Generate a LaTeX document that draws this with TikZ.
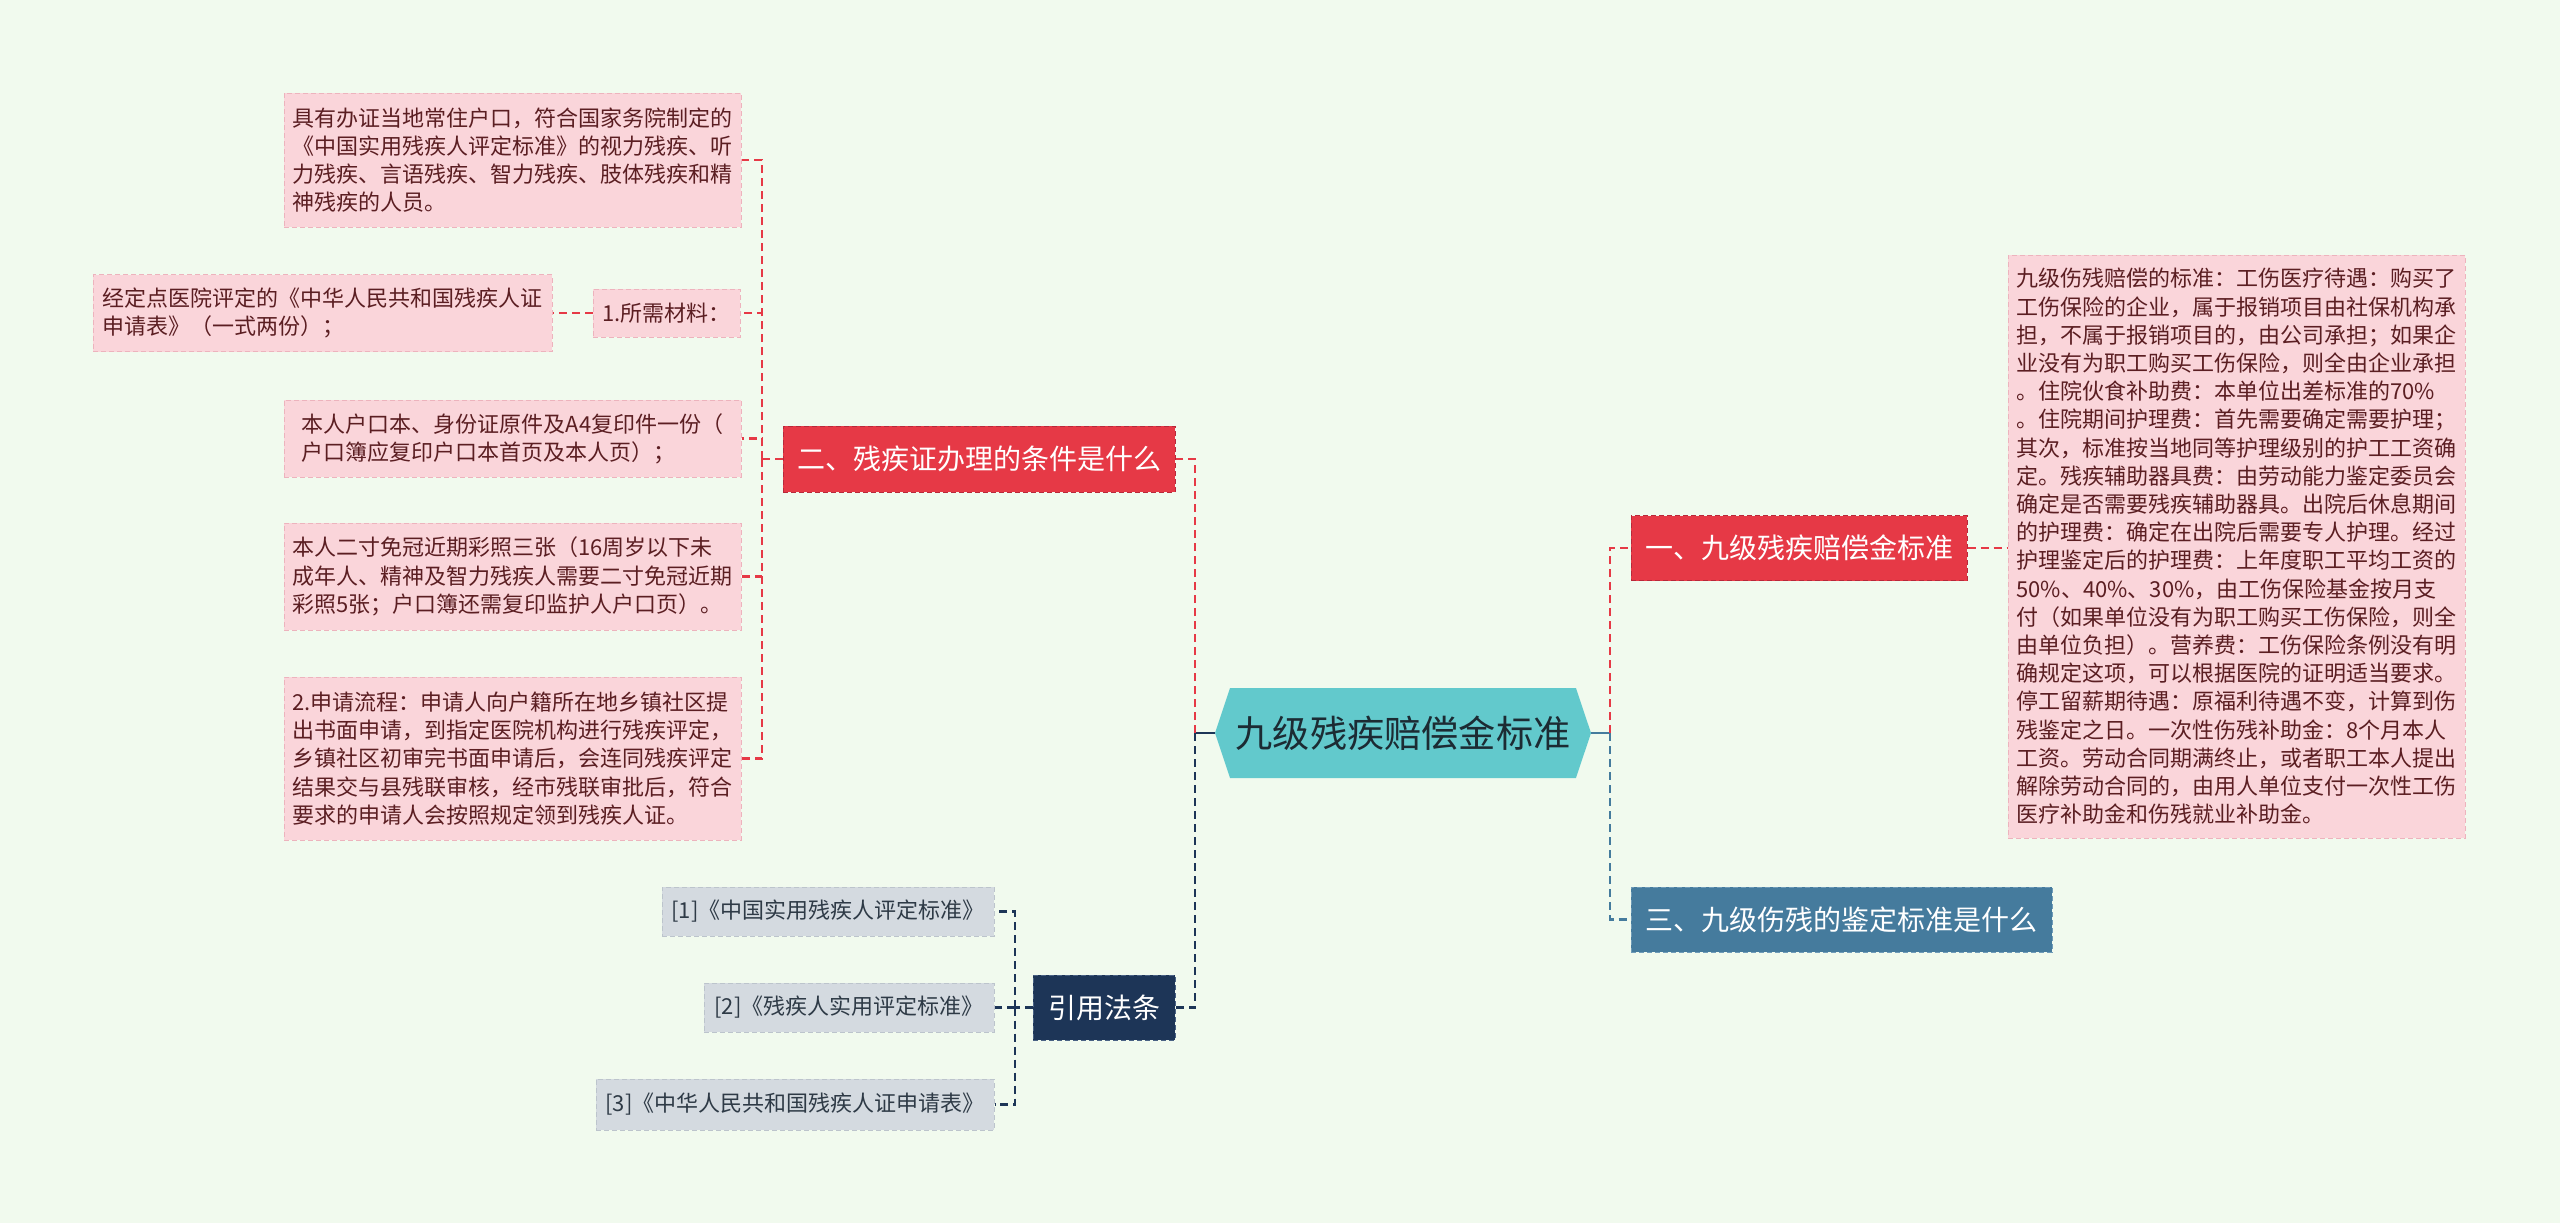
\documentclass[tikz,border=0pt]{standalone}
\usepackage{fontspec}
\setmainfont{Noto Sans CJK SC}
\usepackage{xcolor}
\usetikzlibrary{shapes.symbols, calc}

\definecolor{bgmint}{HTML}{F1FAEE}
\definecolor{hongse}{HTML}{E63946}
\definecolor{hongbian}{HTML}{B8283A}
\definecolor{fenhong}{HTML}{FAD5DA}
\definecolor{fenbian}{HTML}{EDB3BD}
\definecolor{yeziwz}{HTML}{5B1E22}
\definecolor{qing}{HTML}{62C9CC}
\definecolor{zhutiwz}{HTML}{1C2B33}
\definecolor{gangse}{HTML}{457B9D}
\definecolor{gangbian}{HTML}{6F9BB8}
\definecolor{zangqing}{HTML}{1D3557}
\definecolor{zangbian}{HTML}{4A6284}
\definecolor{huise}{HTML}{D4DAE0}
\definecolor{huibian}{HTML}{BCC4CC}
\definecolor{yinwz}{HTML}{2E3A46}

\begin{document}
\begin{tikzpicture}[x=0.5pt, y=-0.5pt,
    every node/.style={inner sep=0pt, align=left},
    zhuti/.style={signal, signal to=east and west, signal pointer angle=143,
        fill=qing, text=zhutiwz, font=\fontsize{18.6}{22}\selectfont},
    fenzhi/.style={draw, line width=0.5pt, dash pattern=on 2.5pt off 1.5pt,
        text=white, font=\fontsize{14}{17}\selectfont},
    yezi/.style={fill=fenhong, draw=fenbian, line width=0.5pt, dash pattern=on 2.5pt off 1.5pt,
        text=yeziwz, font=\fontsize{11}{14.1}\selectfont},
    yinyong/.style={fill=huise, draw=huibian, line width=0.5pt, dash pattern=on 2.5pt off 1.5pt,
        text=yinwz, font=\fontsize{11}{14}\selectfont},
    lian/.style={line width=1.1pt, dash pattern=on 4pt off 2.5pt},
    zhugan/.style={line width=1.3pt}]

    % 背景
    \fill[bgmint] (0,0) rectangle (2560,1223);
    \useasboundingbox (0,0) rectangle (2560,1223);

    % 中心主题
    \node[zhuti, minimum width=188pt, minimum height=45pt] (ctr) at (1403,733) {九级残疾赔偿金标准};

    % 一级分支
    \node[fenzhi, fill=hongse, draw=hongbian, minimum width=196pt, minimum height=33pt] (b2) at (979,459) {二、残疾证办理的条件是什么};
    \node[fenzhi, fill=hongse, draw=hongbian, minimum width=168pt, minimum height=32.5pt] (b1) at (1799,548) {一、九级残疾赔偿金标准};
    \node[fenzhi, fill=gangse, draw=gangbian, minimum width=210.5pt, minimum height=32.5pt] (b3) at (1841.5,919.5) {三、九级伤残的鉴定标准是什么};
    \node[fenzhi, fill=zangqing, draw=zangbian, minimum width=71pt, minimum height=32.5pt] (bref) at (1104,1007.5) {引用法条};

    % 左侧子节点
    \node[yezi, minimum width=228.5pt, minimum height=67pt] (la) at (512.5,160) {具有办证当地常住户口，符合国家务院制定的\\《中国实用残疾人评定标准》的视力残疾、听\\力残疾、言语残疾、智力残疾、肢体残疾和精\\神残疾的人员。};
    \node[yezi, minimum width=73.5pt, minimum height=24pt] (lc) at (666.5,313) {1.所需材料：};
    \node[yezi, minimum width=229.5pt, minimum height=38.5pt] (lb) at (322.5,313) {经定点医院评定的《中华人民共和国残疾人证\\申请表》（一式两份）；};
    \node[yezi, minimum width=228.5pt, minimum height=38.5pt] (ld) at (512.5,438.5) {本人户口本、身份证原件及A4复印件一份（\\户口簿应复印户口本首页及本人页）；};
    \node[yezi, minimum width=228.5pt, minimum height=53.5pt] (le) at (512.5,576.5) {本人二寸免冠近期彩照三张（16周岁以下未\\成年人、精神及智力残疾人需要二寸免冠近期\\彩照5张；户口簿还需复印监护人户口页）。};
    \node[yezi, minimum width=228.5pt, minimum height=81.5pt] (lf) at (512.5,758.5) {2.申请流程：申请人向户籍所在地乡镇社区提\\出书面申请，到指定医院机构进行残疾评定，\\乡镇社区初审完书面申请后，会连同残疾评定\\结果交与县残联审核，经市残联审批后，符合\\要求的申请人会按照规定领到残疾人证。};

    % 右侧子节点
    \node[yezi, minimum width=228.5pt, minimum height=291.5pt] (rt) at (2236.5,546.5) {九级伤残赔偿的标准：工伤医疗待遇：购买了\\工伤保险的企业，属于报销项目由社保机构承\\担，不属于报销项目的，由公司承担；如果企\\业没有为职工购买工伤保险，则全由企业承担\\。住院伙食补助费：本单位出差标准的70\%\\。住院期间护理费：首先需要确定需要护理；\\其次，标准按当地同等护理级别的护工工资确\\定。残疾辅助器具费：由劳动能力鉴定委员会\\确定是否需要残疾辅助器具。出院后休息期间\\的护理费：确定在出院后需要专人护理。经过\\护理鉴定后的护理费：上年度职工平均工资的\\50\%、40\%、30\%，由工伤保险基金按月支\\付（如果单位没有为职工购买工伤保险，则全\\由单位负担）。营养费：工伤保险条例没有明\\确规定这项，可以根据医院的证明适当要求。\\停工留薪期待遇：原福利待遇不变，计算到伤\\残鉴定之日。一次性伤残补助金：8个月本人\\工资。劳动合同期满终止，或者职工本人提出\\解除劳动合同的，由用人单位支付一次性工伤\\医疗补助金和伤残就业补助金。};

    % 引用法条
    \node[yinyong, minimum width=166pt, minimum height=24.5pt] (r1) at (828,911.5) {[1]《中国实用残疾人评定标准》};
    \node[yinyong, minimum width=145pt, minimum height=24.5pt] (r2) at (849,1007.5) {[2]《残疾人实用评定标准》};
    \node[yinyong, minimum width=199pt, minimum height=25.5pt] (r3) at (795,1104.5) {[3]《中华人民共和国残疾人证申请表》};

    % 连线
    \coordinate (jl) at (1195,733);
    \coordinate (jr) at (1610,733);
    \coordinate (jb2) at (762,459);
    \coordinate (jref) at (1015,1007.5);

    \draw[zhugan, zangqing] (ctr.west) -- (jl);
    \draw[zhugan, gangse] (ctr.east) -- (jr);
    \draw[lian, hongse] (jl) |- (b2.east);
    \draw[lian, zangqing] (jl) |- (bref.east);
    \draw[lian, hongse] (jr) |- (b1.west);
    \draw[lian, gangse] (jr) |- (b3.west);
    \draw[lian, hongse] (b1.east) -- (b1.east -| rt.west);

    \draw[lian, hongse] (b2.west) -- (jb2);
    \foreach \n in {la, lc, ld, le, lf} {
        \draw[lian, hongse] (jb2) |- (\n.east);
    }
    \draw[lian, hongse] (lc.west) -- (lb.east);

    \draw[lian, zangqing] (bref.west) -- (jref);
    \foreach \n in {r1, r2, r3} {
        \draw[lian, zangqing] (jref) |- (\n.east);
    }
\end{tikzpicture}
\end{document}
